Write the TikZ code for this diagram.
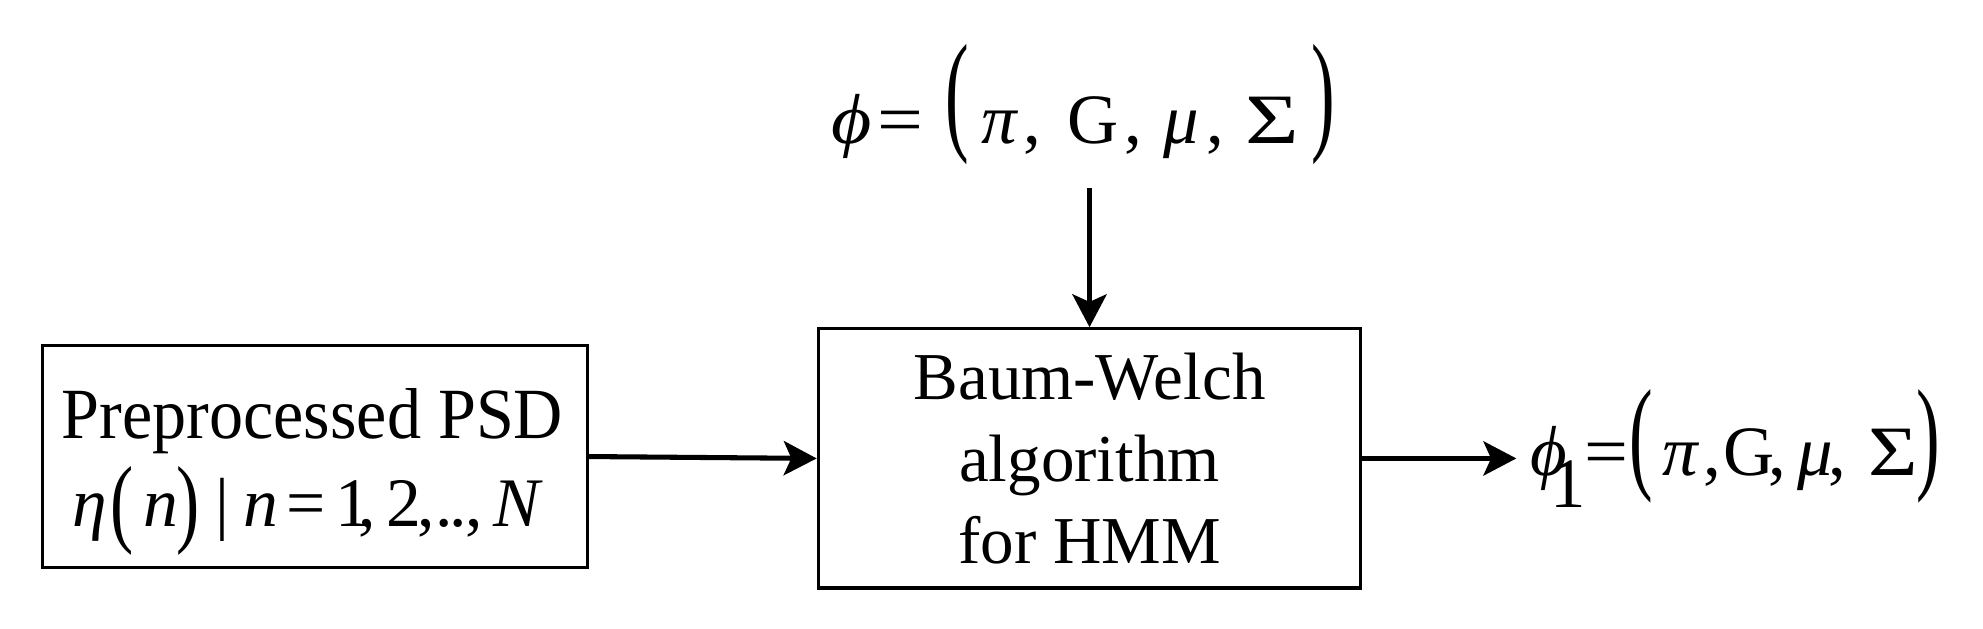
\documentclass[tikz,border=0pt]{standalone}
\usepackage{fontspec}
\setmainfont{Liberation Serif}
\usepackage{graphicx}
\usetikzlibrary{arrows.meta}
% #1 vertical scale, #2 raise, #3 delimiter
\newcommand{\bparen}[3]{\raisebox{#2}{\scalebox{1}[#1]{#3}}}
% glyph, then advance to the next glyph origin
\newcommand{\gl}[2]{\rlap{#1}\kern#2}
\begin{document}
\begin{tikzpicture}[x=1pt,y=-1pt,
 box/.style={draw,line width=2.5pt,inner sep=0pt},
 txt/.style={inner sep=0pt,anchor=base},
 arr/.style={line width=4pt,-{Stealth[length=26pt,width=27pt,inset=6pt]}}]
\useasboundingbox (0,0) rectangle (1568,496.6);
% left box
\node[box,minimum width=431pt,minimum height=176pt] (psd) at (249,361) {};
\node[txt,font=\fontsize{57}{66}\selectfont] (psdA) at (247.1,346.6)
 {\scalebox{0.945}[1]{Preprocessed PSD}};
\node[txt,anchor=base west,font=\fontsize{55}{66}\selectfont] (psdB) at (57,416.4)
 {\gl{\textit{η}}{30.4pt}\gl{\bparen{1.41}{-0.11em}{(}}{25.6pt}\gl{\textit{n}}{26.4pt}%
  \gl{\bparen{1.41}{-0.11em}{)}}{30.6pt}\gl{|}{22pt}\gl{\textit{n}}{34.3pt}\gl{=}{39.1pt}%
  \gl{1}{17.6pt}\gl{,}{22.2pt}\gl{2}{24.8pt}\gl{,}{14pt}\gl{.}{11pt}\gl{.}{13pt}\gl{,}{22pt}\textit{N}};
% middle box
\node[box,minimum width=429pt,minimum height=205pt,align=center,
 font=\fontsize{53}{65}\selectfont] (hmm) at (861.5,362.5)
 {Baum-Welch\\algorithm\\for HMM};
% prior parameters
\node[txt,anchor=base west,font=\fontsize{56}{66}\selectfont] (prior) at (657,113.5)
 {\gl{\scalebox{1.1}[1]{\textit{ϕ}}}{37pt}\gl{\scalebox{1.15}[1]{=}}{53.5pt}%
  \gl{\bparen{1.876}{0.1em}{(}}{28.5pt}\gl{\textit{π}}{33pt}\gl{,}{35pt}\gl{G}{45pt}%
  \gl{,}{31pt}\gl{\textit{μ}}{34pt}\gl{,}{30.5pt}\gl{\scalebox{1.3}[1]{Σ}}{52pt}%
  \bparen{1.876}{0.1em}{)}};
% trained parameters
\node[txt,anchor=base west,font=\fontsize{56}{66}\selectfont] (post) at (1199,376)
 {\kern11pt\gl{\textit{ϕ}}{16pt}\gl{\raisebox{-0.45em}{1}}{26.3pt}\gl{\scalebox{1.1}[1]{=}}{36pt}%
  \gl{\bparen{1.77}{-0.017em}{(}}{25.7pt}\gl{\textit{π}}{33pt}\gl{,}{16pt}\gl{G}{35pt}%
  \gl{,}{23pt}\gl{\textit{μ}}{25pt}\gl{,}{31pt}\gl{\scalebox{1.2}[1]{Σ}}{38.4pt}%
  \bparen{1.77}{-0.017em}{)}};
\draw[arr] (psd.east) -- (hmm.west);
\draw[arr] (hmm.east) -- (hmm.east -| post.west);
\draw[arr,shorten <=18.5pt] (hmm.north |- prior.south) -- (hmm.north);
\end{tikzpicture}
\end{document}
